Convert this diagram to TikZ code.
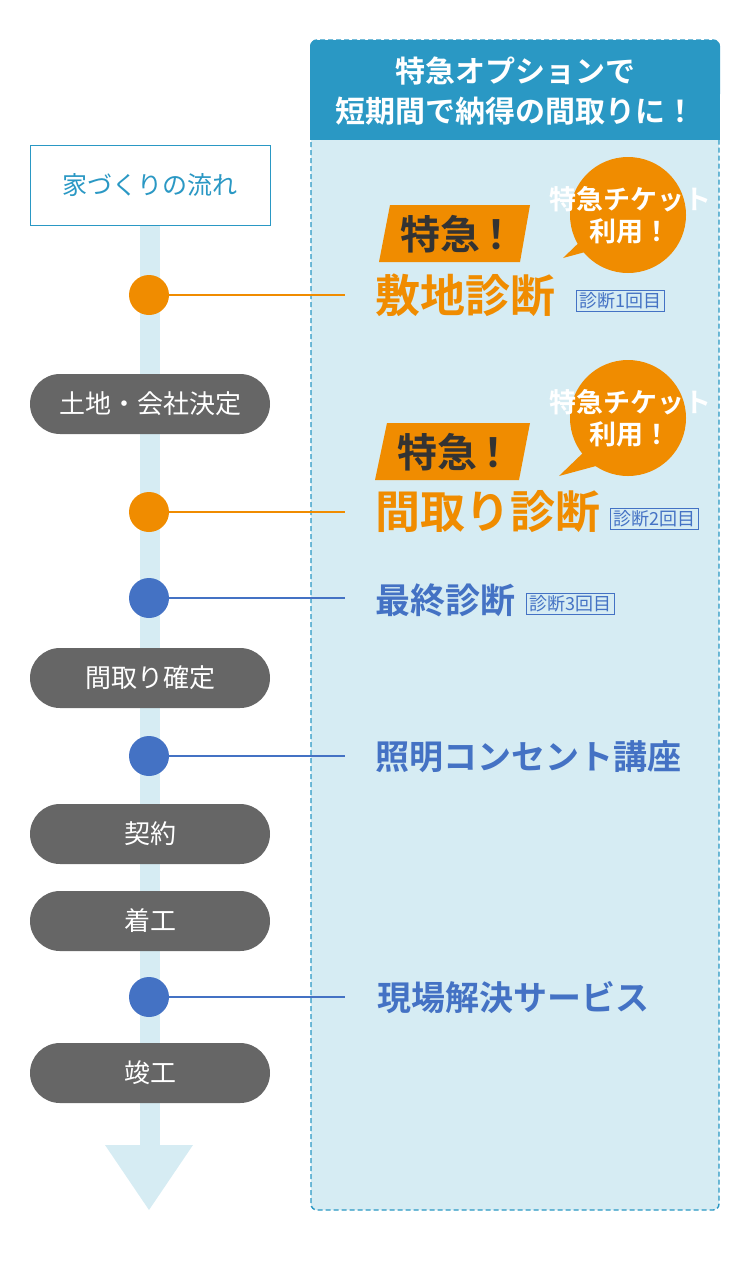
\documentclass[tikz,border=0pt]{standalone}
\usepackage{fontspec}
\setmainfont{Noto Sans CJK JP}
\newfontfamily\jpb{Noto Sans CJK JP Bold}
\definecolor{panel}{HTML}{D6ECF3}
\definecolor{head}{HTML}{2A98C4}
\definecolor{gr}{HTML}{666666}
\definecolor{og}{HTML}{F08C00}
\definecolor{bl}{HTML}{4472C4}
\definecolor{dk}{HTML}{333333}
\tikzset{
 pill/.style={fill=gr,rounded corners=30pt,minimum width=240pt,minimum height=60pt,text=white,font=\fontsize{26}{28}\selectfont,inner sep=0},
 dot/.style={circle,minimum size=40pt,inner sep=0},
 tag/.style={draw=bl,line width=1.2pt,text=bl,font=\fontsize{18}{20}\selectfont,inner xsep=3pt,inner ysep=2.5pt,anchor=west},
 big/.style={font=\jpb\fontsize{45}{48}\selectfont,text=og,anchor=west,inner sep=0},
 mid/.style={font=\jpb\fontsize{34}{38}\selectfont,text=bl,anchor=west,inner sep=0},
 bub/.style={font=\jpb\fontsize{27}{32}\selectfont,text=white,align=center,inner sep=0},
 kyu/.style={font=\jpb\fontsize{40}{44}\selectfont,text=dk,inner sep=0}
}
\begin{document}
\begin{tikzpicture}[x=1pt,y=-1pt]
\useasboundingbox (0,0) rectangle (750,1280);
% panel
\draw[fill=panel,draw=head,dash pattern=on 5pt off 3pt,line width=1.4pt,rounded corners=6pt] (311,40) rectangle (719,1210);
\fill[head,rounded corners=6pt] (310,40) rectangle (720,100);
\fill[head] (310,90) rectangle (720,140);
\node[text=white,font=\jpb\fontsize{30}{40}\selectfont,align=center] (h) at (515,91) {特急オプションで\\短期間で納得の間取りに！};
% flow bar
\fill[panel] (140,225) rectangle (160,1146);
\fill[panel] (105,1145) -- (193,1145) -- (149,1210) -- cycle;
\node[draw=head,fill=white,minimum width=240pt,minimum height=80pt,text=head,font=\fontsize{25}{28}\selectfont,line width=0.8pt] (t) at (150,185) {家づくりの流れ};
\node[pill] (p1) at (150,404) {土地・会社決定};
\node[pill] (p2) at (150,678) {間取り確定};
\node[pill] (p3) at (150,834) {契約};
\node[pill] (p4) at (150,921) {着工};
\node[pill] (p5) at (150,1073) {竣工};
% dots and lines
\foreach \n/\y/\c in {d1/295/og,d2/512/og,d3/598/bl,d4/756/bl,d5/997/bl}{
 \node[dot,fill=\c] (\n) at (149,\y) {};
 \coordinate (\n e) at (345,\y);
 \draw[\c,line width=2pt] (\n) -- (\n e);
}
% item 1
\fill[og] (390,205) -- (530,205) -- (520,262) -- (379,262) -- cycle;
\node[kyu] (k1) at (458,234) {特急\kern-4pt！};
\fill[og] (563,258) -- (590,232) -- (600,248) -- cycle;
\node[circle,fill=og,minimum size=116pt] (b1) at (628,215) {};
\node[bub] at (630,215) {特急チケット\\利用！};
\node[big] (s1) at (375,295) {敷地診断};
\node[tag] (g1) at (576,301) {診断1回目};
% item 2
\fill[og] (387,423) -- (530,423) -- (519,480) -- (375,480) -- cycle;
\node[kyu] (k2) at (455,452) {特急\kern-4pt！};
\fill[og] (559,476) -- (586,450) -- (596,466) -- cycle;
\node[circle,fill=og,minimum size=116pt] (b2) at (628,418) {};
\node[bub] at (630,418) {特急チケット\\利用！};
\node[big] (s2) at (375,512) {間取り診断};
\node[tag] (g2) at (610,519) {診断2回目};
% others
\node[mid,font=\jpb\fontsize{35}{38}\selectfont] (s3) at (375,600) {最終診断};
\node[tag] (g3) at (526,604) {診断3回目};
\node[mid] (s4) at (375,757) {照明コンセント講座};
\node[mid] (s5) at (377,998) {現場解決サービス};
\end{tikzpicture}
\end{document}
